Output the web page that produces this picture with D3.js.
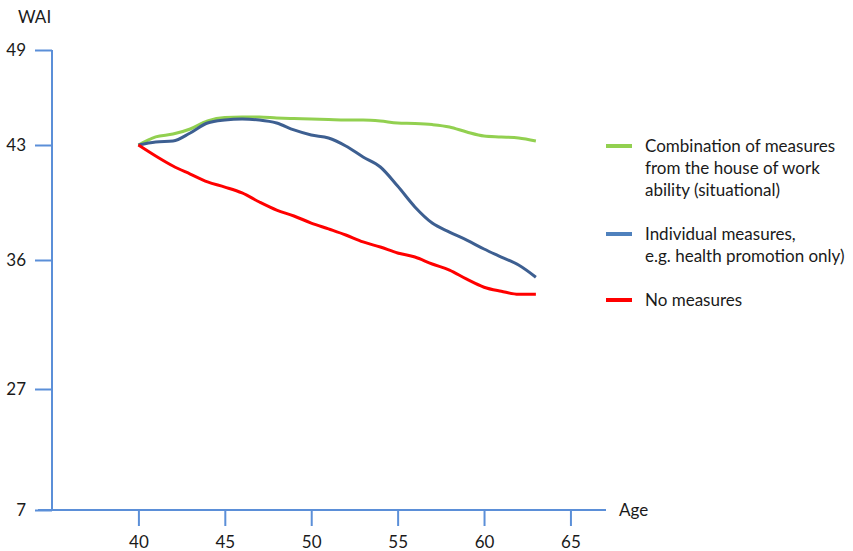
<!DOCTYPE html>
<html>
<head>
<meta charset="utf-8">
<script src="https://cdn.jsdelivr.net/npm/d3@7"></script>
<style>
  body { margin: 0; background: #fff; overflow: hidden; }
  svg { display: block; }
  text { font-family: Lato, "Open Sans", sans-serif; fill: #1a1a1a; }
</style>
</head>
<body>
<script>
// chart size
var W = 853;
var H = 551;

// data
var ages = [40, 41, 42, 43, 44, 45, 46, 47, 48, 49, 50, 51, 52, 53, 54, 55, 56, 57, 58, 59, 60, 61, 62, 63];
var combined = [43, 43.51, 43.69, 44.01, 44.52, 44.74, 44.77, 44.77, 44.71, 44.67, 44.64, 44.61,
                44.58, 44.58, 44.52, 44.39, 44.36, 44.29, 44.14, 43.82, 43.57, 43.51, 43.44, 43.25];
var individual = [43, 43.19, 43.25, 43.76, 44.39, 44.58, 44.64, 44.58, 44.39, 43.95, 43.63, 43.44,
                  42.94, 42.27, 41.66, 40.50, 39.23, 38.25, 37.70, 37.21, 36.67, 36.18, 35.65, 34.80];
var none = [43, 42.33, 41.72, 41.23, 40.75, 40.44, 40.08, 39.53, 39.04, 38.68, 38.25, 37.89,
            37.52, 37.10, 36.79, 36.43, 36.18, 35.72, 35.30, 34.66, 34.10, 33.82, 33.61, 33.61];
var xTicks = [40, 45, 50, 55, 60, 65];
var yTicks = [7, 27, 36, 43, 49];

var seriesNames = [
  ["Combination of measures", "from the house of work", "ability (situational)"],
  ["Individual measures,", "e.g. health promotion only)"],
  ["No measures"]
];
var lineColors = ["#92d050", "#3d5f91", "#ff0000"];
var legendColors = ["#92d050", "#4f81bd", "#ff0000"];
var axisColor = "#5b8fd8";

function main() {
  var svg = d3.select("body").append("svg")
    .attr("width", W)
    .attr("height", H);

  var xScale = d3.scaleLinear().domain([35, 67]).range([52, 605]);
  // the y axis is not evenly spaced in the original, so piecewise
  var yScale = d3.scaleLinear().domain(yTicks).range([510, 389, 260, 145, 50]);

  // y axis
  var yAxis = d3.axisLeft(yScale).tickValues(yTicks).tickSize(17).tickPadding(9);
  var gy = svg.append("g").attr("transform", "translate(52,0)").call(yAxis);
  gy.select(".domain").remove();
  gy.append("line").attr("x1", 0).attr("x2", 0).attr("y1", 50).attr("y2", 510)
    .attr("stroke", axisColor).attr("stroke-width", 2);
  gy.selectAll(".tick line").attr("stroke", axisColor).attr("stroke-width", 2);
  gy.selectAll(".tick text").style("font-size", "17px").attr("fill", "#1a1a1a");

  // x axis
  var xAxis = d3.axisBottom(xScale).tickValues(xTicks).tickSize(16).tickPadding(10);
  var gx = svg.append("g").attr("transform", "translate(0,510)").call(xAxis);
  gx.select(".domain").remove();
  gx.append("line").attr("x1", 38).attr("x2", 606).attr("y1", 0).attr("y2", 0)
    .attr("stroke", axisColor).attr("stroke-width", 2);
  gx.selectAll(".tick line").attr("stroke", axisColor).attr("stroke-width", 2);
  gx.selectAll(".tick text").style("font-size", "17px").attr("fill", "#1a1a1a");

  svg.append("text").attr("x", 18).attr("y", 23).style("font-size", "17px").text("WAI");
  svg.append("text").attr("x", 619).attr("y", 516).style("font-size", "17px").text("Age");

  // lines
  var line = d3.line()
    .x(function(d) { return xScale(d[0]); })
    .y(function(d) { return yScale(d[1]); })
    .curve(d3.curveMonotoneX);

  [combined, individual, none].forEach(function(vals, i) {
    svg.append("path")
      .datum(ages.map(function(a, j) { return [a, vals[j]]; }))
      .attr("fill", "none")
      .attr("stroke", lineColors[i])
      .attr("stroke-width", 3)
      .attr("d", line);
  });

  // legend
  var legendY = [146, 234, 300];
  seriesNames.forEach(function(lines, i) {
    svg.append("line")
      .attr("x1", 606).attr("x2", 632)
      .attr("y1", legendY[i]).attr("y2", legendY[i])
      .attr("stroke", legendColors[i]).attr("stroke-width", 4);
    lines.forEach(function(t, k) {
      svg.append("text")
        .attr("x", 645)
        .attr("y", legendY[i] + 22 * k + 6)
        .style("font-size", "17px")
        .text(t);
    });
  });
}

main();
</script>
</body>
</html>
